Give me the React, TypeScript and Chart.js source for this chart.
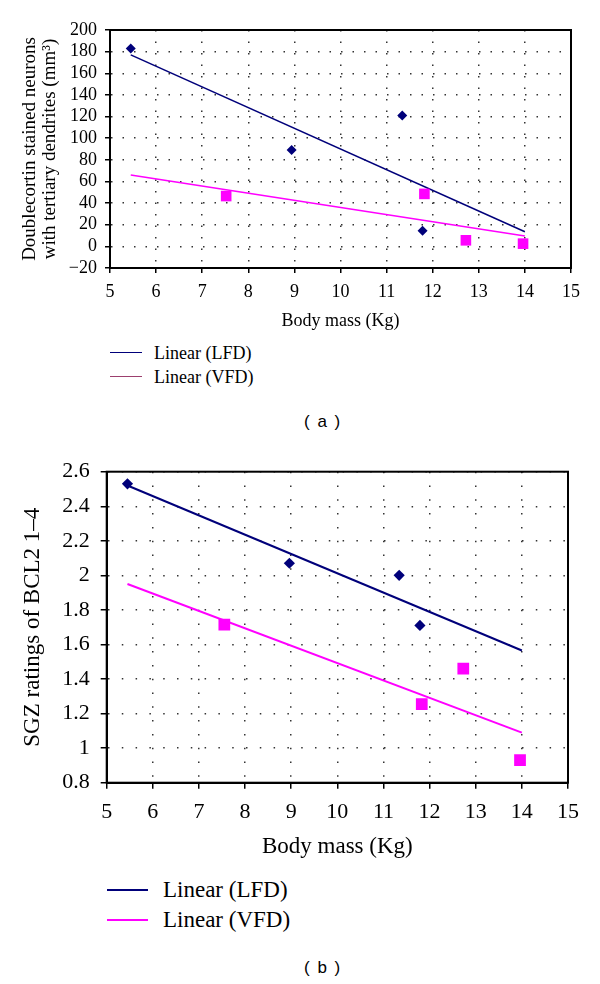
import React, { useEffect, useRef } from 'react';
import { Chart, registerables } from 'chart.js';

Chart.register(...registerables);

const SERIF = '"Liberation Serif", "Times New Roman", serif';
const SANS = '"Liberation Sans", Arial, sans-serif';
const NAVY = '#00007a';
const MAGENTA = '#ff00ff';
const DOT = '#333333';

// ---------- shared ----------
const massTicks = [5, 6, 7, 8, 9, 10, 11, 12, 13, 14, 15];
const legendLabels = ['Linear (LFD)', 'Linear (VFD)'];
const trendMass = [5.45, 14];

// ---------- panel (a) ----------
const massA_LFD = [5.45, 8.94, 11.34, 11.78];
const neuronsLFD = [183, 89, 121, 14.5];
const massA_VFD = [7.52, 11.82, 12.72, 13.96];
const neuronsVFD = [46.5, 48.5, 5.6, 2.5];
const neuronsTrendLFD = [177, 13.5];
const neuronsTrendVFD = [66, 9.6];
const neuronTicks = [-20, 0, 20, 40, 60, 80, 100, 120, 140, 160, 180, 200];

// ---------- panel (b) ----------
const massB_LFD = [5.45, 8.96, 11.34, 11.79];
const bcl2LFD = [2.53, 2.07, 2.0, 1.71];
const massB_VFD = [7.55, 11.83, 12.73, 13.96];
const bcl2VFD = [1.715, 1.255, 1.46, 0.93];
const bcl2TrendLFD = [2.52, 1.565];
const bcl2TrendVFD = [1.95, 1.09];
const bcl2Ticks = [0.8, 1, 1.2, 1.4, 1.6, 1.8, 2, 2.2, 2.4, 2.6];

const zip = (xs: number[], ys: number[]) => xs.map((x, i) => ({ x, y: ys[i] }));

type Spec = {
  height: number;
  plot: { left: number; top: number; right: number; bottom: number };
  tickFont: number;
  titleFont: number;
  yTitleFont: number;
  yTitle: string | string[];
  yTitlePad: number;
  yTitleLH: number;
  dash: number[];
  tickLen: number;
  xTickPad: number;
  yTickPad: number;
  yTicks: number[];
  yFormat: (v: number) => string;
  lfd: { x: number; y: number }[];
  vfd: { x: number; y: number }[];
  trendLFD: { x: number; y: number }[];
  trendVFD: { x: number; y: number }[];
  diamondR: number;
  squareR: number;
  lineW: number;
};

const framePlugin = {
  id: 'frame',
  afterDraw(chart: any) {
    const { ctx, chartArea: a } = chart;
    ctx.save();
    ctx.setLineDash([]);
    ctx.strokeStyle = '#000';
    ctx.lineWidth = 2;
    ctx.strokeRect(a.left, a.top, a.right - a.left, a.bottom - a.top);
    ctx.restore();
  },
};

function buildConfig(s: Spec): any {
  const gridCommon = {
    color: DOT,
    lineWidth: 1.5,
    tickLength: s.tickLen,
    tickColor: '#000',
    tickWidth: 1.5,
    tickBorderDash: [],
  };
  return {
    type: 'scatter',
    data: {
      datasets: [
        {
          label: 'LFD',
          data: s.lfd,
          pointStyle: 'rectRot',
          pointRadius: s.diamondR,
          backgroundColor: NAVY,
          borderColor: NAVY,
          borderWidth: 0,
          showLine: false,
        },
        {
          label: 'VFD',
          data: s.vfd,
          pointStyle: 'rect',
          pointRadius: s.squareR,
          backgroundColor: MAGENTA,
          borderColor: MAGENTA,
          borderWidth: 0,
          showLine: false,
        },
        {
          label: legendLabels[0],
          data: s.trendLFD,
          showLine: true,
          pointRadius: 0,
          borderColor: NAVY,
          backgroundColor: NAVY,
          borderWidth: s.lineW,
        },
        {
          label: legendLabels[1],
          data: s.trendVFD,
          showLine: true,
          pointRadius: 0,
          borderColor: MAGENTA,
          backgroundColor: MAGENTA,
          borderWidth: s.lineW,
        },
      ],
    },
    options: {
      responsive: false,
      animation: false,
      layout: {
        padding: { left: 0, top: s.plot.top, right: 600 - s.plot.right, bottom: 0 },
      },
      plugins: { legend: { display: false }, tooltip: { enabled: false } },
      scales: {
        x: {
          type: 'linear',
          min: 5,
          max: 15,
          afterBuildTicks: (sc: any) => {
            sc.ticks = massTicks.map((v) => ({ value: v }));
          },
          afterFit: (sc: any) => {
            sc.height = s.height - s.plot.bottom;
          },
          ticks: {
            color: '#000',
            padding: s.xTickPad,
            maxRotation: 0,
            autoSkip: false,
            font: { family: SERIF, size: s.tickFont },
          },
          grid: gridCommon,
          border: { display: true, color: '#000', width: 2, dash: s.dash },
          title: {
            display: true,
            text: 'Body mass (Kg)',
            color: '#000',
            font: { family: SERIF, size: s.titleFont },
            padding: { top: 0, bottom: 4 },
          },
        },
        y: {
          type: 'linear',
          min: s.yTicks[0],
          max: s.yTicks[s.yTicks.length - 1],
          afterBuildTicks: (sc: any) => {
            sc.ticks = s.yTicks.map((v) => ({ value: v }));
          },
          afterFit: (sc: any) => {
            sc.width = s.plot.left;
          },
          ticks: {
            color: '#000',
            padding: s.yTickPad,
            autoSkip: false,
            font: { family: SERIF, size: s.tickFont },
            callback: (v: any) => s.yFormat(Number(v)),
          },
          grid: gridCommon,
          border: { display: true, color: '#000', width: 2, dash: s.dash },
          title: {
            display: true,
            text: s.yTitle,
            color: '#000',
            font: { family: SERIF, size: s.yTitleFont, lineHeight: s.yTitleLH },
            padding: { top: s.yTitlePad, bottom: 0 },
          },
        },
      },
    },
    plugins: [framePlugin],
  };
}

const specA: Spec = {
  height: 336,
  plot: { left: 110, top: 30, right: 571, bottom: 268 },
  tickFont: 18,
  titleFont: 18,
  yTitleFont: 19,
  yTitle: ['Doublecortin stained neurons', 'with tertiary dendrites (mm\u00b3)'],
  yTitlePad: 20.5,
  yTitleLH: 1.05,
  dash: [1.5, 10],
  tickLen: 5,
  xTickPad: 8,
  yTickPad: 8,
  yTicks: neuronTicks,
  yFormat: (v) => (v < 0 ? '\u2212' + Math.abs(v) : String(v)),
  lfd: zip(massA_LFD, neuronsLFD),
  vfd: zip(massA_VFD, neuronsVFD),
  trendLFD: zip(trendMass, neuronsTrendLFD),
  trendVFD: zip(trendMass, neuronsTrendVFD),
  diamondR: 5,
  squareR: 7.5,
  lineW: 1.5,
};

const specB: Spec = {
  height: 425,
  plot: { left: 106.7, top: 31.7, right: 568, bottom: 342.7 },
  tickFont: 22,
  titleFont: 23,
  yTitleFont: 23,
  yTitle: 'SGZ ratings of BCL2 1\u20134',
  yTitlePad: 19,
  yTitleLH: 1.2,
  dash: [1.5, 12.3],
  tickLen: 6,
  xTickPad: 10,
  yTickPad: 11,
  yTicks: bcl2Ticks,
  yFormat: (v) => String(parseFloat(v.toFixed(1))),
  lfd: zip(massB_LFD, bcl2LFD),
  vfd: zip(massB_VFD, bcl2VFD),
  trendLFD: zip(trendMass, bcl2TrendLFD),
  trendVFD: zip(trendMass, bcl2TrendVFD),
  diamondR: 5.6,
  squareR: 8.3,
  lineW: 2,
};

function Panel({ spec, top }: { spec: Spec; top: number }) {
  const ref = useRef<HTMLCanvasElement>(null);
  useEffect(() => {
    const chart = new Chart(ref.current as HTMLCanvasElement, buildConfig(spec));
    return () => chart.destroy();
  }, []);
  return (
    <canvas
      ref={ref}
      width={600}
      height={spec.height}
      style={{ position: 'absolute', left: 0, top, width: 600, height: spec.height, display: 'block' }}
    />
  );
}

type LegendSpec = {
  lineLeft: number;
  lineRight: number;
  textLeft: number;
  ys: number[];
  colors: string[];
  font: number;
  lineW: number;
};

function Legend({ l }: { l: LegendSpec }) {
  return (
    <>
      {legendLabels.map((lab, i) => (
        <React.Fragment key={lab}>
          <div
            style={{
              position: 'absolute',
              left: l.lineLeft,
              top: l.ys[i] - l.lineW / 2,
              width: l.lineRight - l.lineLeft,
              height: l.lineW,
              background: l.colors[i],
            }}
          />
          <div
            style={{
              position: 'absolute',
              left: l.textLeft,
              top: l.ys[i] - 15,
              height: 30,
              lineHeight: '30px',
              fontFamily: SERIF,
              fontSize: l.font,
              color: '#000',
              whiteSpace: 'nowrap',
            }}
          >
            {lab}
          </div>
        </React.Fragment>
      ))}
    </>
  );
}

function Caption({ text, cy }: { text: string; cy: number }) {
  return (
    <div
      style={{
        position: 'absolute',
        left: 304,
        top: cy - 11,
        height: 22,
        lineHeight: '22px',
        fontFamily: SANS,
        fontSize: 17,
        letterSpacing: '1.5px',
        color: '#000',
        whiteSpace: 'pre',
      }}
    >
      {text}
    </div>
  );
}

export default function App() {
  return (
    <div
      style={{
        position: 'absolute',
        left: 0,
        top: 0,
        width: 600,
        height: 984,
        background: '#fff',
        overflow: 'hidden',
      }}
    >
      <Panel spec={specA} top={0} />
      <Legend
        l={{
          lineLeft: 110,
          lineRight: 142,
          textLeft: 154,
          ys: [352.7, 376.7],
          colors: [NAVY, '#9c3f6e'],
          font: 18,
          lineW: 1.5,
        }}
      />
      <Caption text="( a )" cy={422} />
      <Panel spec={specB} top={440} />
      <Legend
        l={{
          lineLeft: 106.7,
          lineRight: 148,
          textLeft: 163,
          ys: [890, 920],
          colors: [NAVY, MAGENTA],
          font: 23,
          lineW: 2,
        }}
      />
      <Caption text="( b )" cy={967.5} />
    </div>
  );
}
